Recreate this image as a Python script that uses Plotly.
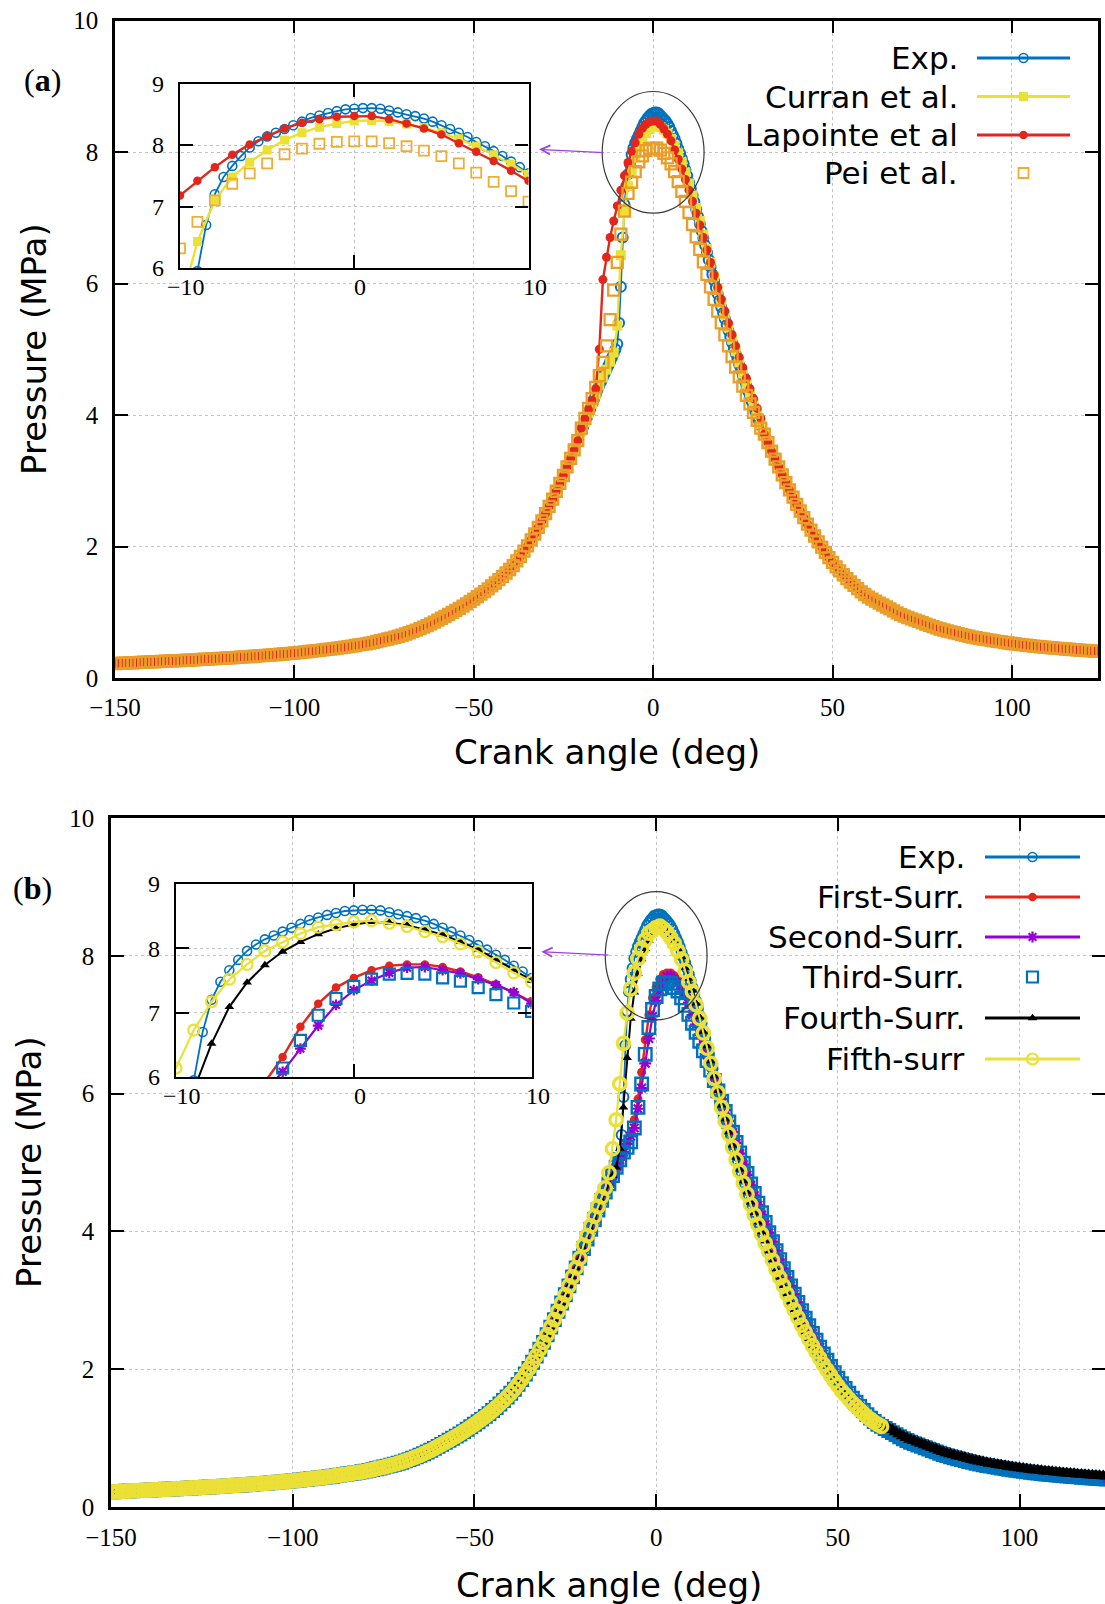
import copy
import plotly.graph_objects as go

W, H = 1105, 1604

# ---------------- angle grids (deg) ----------------
ANG_TAIL_L = list(range(-150, -40))              # -150 .. -41
ANG_RISE = list(range(-40, -20))                 # -40 .. -21
ANG_WIN = list(range(-20, 31))                   # -20 .. 30
ANG_WIN_EXP = [a / 2 for a in range(-40, 61)]    # -20 .. 30 step 0.5
ANG_FALL = list(range(31, 61))                   # 31 .. 60
ANG_TAIL_R = list(range(61, 125))                # 61 .. 124

# ---------------- shared pressure parts (MPa) ----------------
P_TAIL_L = [0.220, 0.222, 0.225, 0.227, 0.230, 0.232, 0.234, 0.237, 0.240, 0.242,
            0.245, 0.247, 0.250, 0.252, 0.255, 0.257, 0.260, 0.262, 0.265, 0.267,
            0.270, 0.273, 0.276, 0.279, 0.282, 0.285, 0.288, 0.291, 0.294, 0.297,
            0.300, 0.303, 0.307, 0.310, 0.314, 0.317, 0.320, 0.324, 0.327, 0.331,
            0.335, 0.339, 0.343, 0.347, 0.352, 0.356, 0.361, 0.365, 0.370, 0.375,
            0.380, 0.385, 0.391, 0.397, 0.403, 0.409, 0.415, 0.421, 0.427, 0.434,
            0.440, 0.447, 0.455, 0.462, 0.470, 0.478, 0.486, 0.494, 0.503, 0.511,
            0.520, 0.531, 0.543, 0.555, 0.567, 0.580, 0.593, 0.606, 0.620, 0.635,
            0.650, 0.669, 0.688, 0.708, 0.728, 0.750, 0.773, 0.798, 0.823, 0.851,
            0.880, 0.909, 0.938, 0.968, 0.998, 1.029, 1.060, 1.094, 1.128, 1.164,
            1.200, 1.237, 1.275, 1.315, 1.355, 1.400, 1.445, 1.495, 1.545, 1.597]
P_RISE = [1.65, 1.71, 1.78, 1.85, 1.93, 2.01, 2.10, 2.19, 2.29, 2.39,
          2.50, 2.61, 2.72, 2.84, 2.96, 3.08, 3.21, 3.34, 3.47, 3.61]
P_FALL = [3.71, 3.58, 3.45, 3.33, 3.21, 3.09, 2.97, 2.86, 2.75, 2.64,
          2.54, 2.44, 2.34, 2.25, 2.16, 2.07, 1.99, 1.91, 1.83, 1.76,
          1.69, 1.63, 1.57, 1.51, 1.46, 1.41, 1.36, 1.31, 1.27, 1.23]
P_FALL_LATE = [3.98, 3.85, 3.72, 3.59, 3.46, 3.33, 3.21, 3.09, 2.97, 2.85,
               2.74, 2.63, 2.52, 2.42, 2.32, 2.22, 2.13, 2.04, 1.95, 1.87,
               1.79, 1.72, 1.65, 1.58, 1.52, 1.46, 1.40, 1.34, 1.29, 1.24]
P_TAIL_R = [1.20, 1.17, 1.14, 1.11, 1.08, 1.05, 1.02, 0.99, 0.965, 0.94,
            0.92, 0.90, 0.88, 0.86, 0.84, 0.82, 0.80, 0.78, 0.762, 0.745,
            0.730, 0.715, 0.701, 0.688, 0.674, 0.660, 0.647, 0.635, 0.623, 0.612,
            0.602, 0.593, 0.584, 0.575, 0.566, 0.557, 0.548, 0.540, 0.532, 0.525,
            0.518, 0.511, 0.504, 0.498, 0.492, 0.486, 0.480, 0.475, 0.470, 0.465,
            0.460, 0.455, 0.450, 0.446, 0.441, 0.437, 0.432, 0.428, 0.424, 0.420,
            0.416, 0.413, 0.409, 0.406]
P_TAIL_R_FOURTH = [1.215, 1.195, 1.17, 1.145, 1.12, 1.09, 1.06, 1.03, 1.005, 0.98,
                   0.96, 0.94, 0.92, 0.90, 0.88, 0.86, 0.84, 0.82, 0.802, 0.785,
                   0.770, 0.755, 0.741, 0.728, 0.714, 0.700, 0.687, 0.675, 0.663, 0.652,
                   0.642, 0.633, 0.624, 0.615, 0.606, 0.597, 0.588, 0.580, 0.572, 0.565,
                   0.558, 0.551, 0.544, 0.538, 0.532, 0.526, 0.520, 0.515, 0.510, 0.505,
                   0.500, 0.495, 0.490, 0.486, 0.481, 0.477, 0.472, 0.468, 0.464, 0.460,
                   0.456, 0.453, 0.449, 0.446]

# ---------------- peak windows ----------------
EXP_WIN = [3.75, 3.82, 3.89, 3.96, 4.03, 4.10, 4.17, 4.24, 4.31, 4.38,
           4.45, 4.51, 4.57, 4.63, 4.69, 4.75, 4.81, 4.87, 4.93, 5.00,
           5.08, 5.40, 5.95, 6.70, 7.20, 7.48, 7.66, 7.82, 7.96, 8.06,
           8.14, 8.20, 8.26, 8.32, 8.38, 8.44, 8.48, 8.52, 8.55, 8.58,
           8.59, 8.60, 8.60, 8.59, 8.56, 8.53, 8.50, 8.47, 8.43, 8.38,
           8.32, 8.26, 8.20, 8.13, 8.05, 7.98, 7.90, 7.82, 7.73, 7.64,
           7.54, 7.44, 7.34, 7.24, 7.13, 7.02, 6.91, 6.80, 6.69, 6.58,
           6.47, 6.36, 6.25, 6.14, 6.04, 5.94, 5.84, 5.74, 5.64, 5.55,
           5.46, 5.37, 5.28, 5.19, 5.10, 5.01, 4.93, 4.85, 4.76, 4.68,
           4.60, 4.52, 4.44, 4.36, 4.28, 4.20, 4.13, 4.05, 3.98, 3.91,
           3.84]
CURRAN_WIN = [3.75, 3.89, 4.03, 4.17, 4.31, 4.45, 4.57, 4.69, 4.81, 4.95,
              5.36, 6.43, 7.10, 7.48, 7.72, 7.92, 8.08, 8.20, 8.29, 8.35,
              8.39, 8.40, 8.38, 8.34, 8.28, 8.20, 8.10, 7.98, 7.84, 7.69, 7.52,
              7.34, 7.15, 6.95, 6.74, 6.53, 6.32, 6.11, 5.91, 5.71, 5.52,
              5.33, 5.15, 4.97, 4.80, 4.63, 4.47, 4.31, 4.16, 4.01, 3.86]
LAPOINTE_WIN = [3.80, 3.94, 4.08, 4.22, 4.40, 5.00, 6.06, 6.40, 6.70, 6.95,
                7.18, 7.42, 7.64, 7.84, 8.01, 8.14, 8.27, 8.36, 8.42, 8.46,
                8.47, 8.47, 8.42, 8.35, 8.27, 8.17, 8.03, 7.89, 7.74, 7.58, 7.42,
                7.25, 7.07, 6.89, 6.70, 6.51, 6.32, 6.13, 5.94, 5.76, 5.58,
                5.40, 5.22, 5.05, 4.88, 4.72, 4.56, 4.40, 4.25, 4.10, 3.95]
PEI_WIN = [3.80, 3.95, 4.10, 4.25, 4.42, 4.60, 4.80, 5.05, 5.45, 5.90,
           6.32, 6.75, 7.10, 7.37, 7.54, 7.70, 7.85, 7.94, 8.02, 8.05,
           8.06, 8.06, 8.03, 7.98, 7.91, 7.82, 7.70, 7.55, 7.40, 7.25, 7.08,
           6.90, 6.71, 6.52, 6.33, 6.14, 5.95, 5.76, 5.58, 5.40, 5.22,
           5.05, 4.89, 4.73, 4.58, 4.44, 4.30, 4.17, 4.04, 3.92, 3.80]
FIRST_WIN = [3.75, 3.89, 4.03, 4.17, 4.31, 4.45, 4.57, 4.69, 4.81, 4.93,
             5.04, 5.15, 5.27, 5.42, 5.62, 5.92, 6.31, 6.78, 7.14, 7.39,
             7.54, 7.66, 7.73, 7.75, 7.75, 7.71, 7.64, 7.55, 7.44, 7.31, 7.18,
             7.04, 6.89, 6.74, 6.58, 6.42, 6.26, 6.10, 5.94, 5.78, 5.62,
             5.46, 5.30, 5.14, 4.98, 4.83, 4.68, 4.53, 4.39, 4.25, 4.11]
SECOND_WIN = [3.75, 3.89, 4.03, 4.17, 4.31, 4.45, 4.57, 4.69, 4.81, 4.93,
              5.04, 5.15, 5.27, 5.38, 5.50, 5.78, 6.08, 6.44, 6.80, 7.12,
              7.35, 7.50, 7.62, 7.70, 7.71, 7.66, 7.61, 7.52, 7.43, 7.32, 7.14,
              7.00, 6.86, 6.71, 6.56, 6.40, 6.24, 6.08, 5.92, 5.76, 5.60,
              5.44, 5.28, 5.13, 4.97, 4.82, 4.67, 4.52, 4.38, 4.24, 4.10]
THIRD_WIN = [3.75, 3.89, 4.03, 4.17, 4.31, 4.45, 4.57, 4.69, 4.81, 4.93,
             5.04, 5.15, 5.22, 5.30, 5.50, 5.80, 6.14, 6.57, 6.96, 7.22,
             7.41, 7.52, 7.60, 7.61, 7.60, 7.54, 7.49, 7.39, 7.28, 7.15, 7.02,
             6.89, 6.76, 6.62, 6.48, 6.34, 6.19, 6.04, 5.89, 5.74, 5.59,
             5.44, 5.29, 5.14, 4.99, 4.84, 4.69, 4.55, 4.41, 4.27, 4.13]
FOURTH_WIN = [3.75, 3.89, 4.03, 4.17, 4.31, 4.45, 4.57, 4.69, 4.81, 4.93,
              5.20, 5.80, 6.52, 7.09, 7.47, 7.74, 7.95, 8.10, 8.22, 8.31,
              8.37, 8.41, 8.40, 8.36, 8.29, 8.21, 8.10, 7.98, 7.83, 7.67, 7.50,
              7.31, 7.11, 6.90, 6.69, 6.47, 6.25, 6.04, 5.83, 5.63, 5.44,
              5.25, 5.07, 4.90, 4.73, 4.57, 4.42, 4.27, 4.13, 3.99, 3.86]
FIFTH_WIN = [3.80, 3.94, 4.08, 4.22, 4.36, 4.50, 4.63, 4.85, 5.20, 5.62,
             6.14, 6.73, 7.17, 7.52, 7.75, 7.96, 8.10, 8.23, 8.33, 8.37,
             8.41, 8.43, 8.39, 8.34, 8.26, 8.18, 8.07, 7.95, 7.78, 7.62, 7.48,
             7.29, 7.09, 6.88, 6.66, 6.44, 6.22, 6.01, 5.80, 5.60, 5.41,
             5.22, 5.04, 4.87, 4.70, 4.54, 4.39, 4.24, 4.10, 3.96, 3.83]

# tick labels
XT_MAIN = [-150, -100, -50, 0, 50, 100]
YT_MAIN = [0, 2, 4, 6, 8, 10]
XT_INSET = [-10, 0, 10]
YT_INSET = [6, 7, 8, 9]

assert len(P_TAIL_L) == len(ANG_TAIL_L)
assert len(P_RISE) == len(ANG_RISE)
assert len(P_FALL) == len(ANG_FALL) == len(P_FALL_LATE)
assert len(P_TAIL_R) == len(ANG_TAIL_R) == len(P_TAIL_R_FOURTH)
assert len(EXP_WIN) == len(ANG_WIN_EXP)
for w in (CURRAN_WIN, LAPOINTE_WIN, PEI_WIN, FIRST_WIN, SECOND_WIN,
          THIRD_WIN, FOURTH_WIN, FIFTH_WIN):
    assert len(w) == len(ANG_WIN), len(w)

ANG_FULL = ANG_TAIL_L + ANG_RISE + ANG_WIN + ANG_FALL + ANG_TAIL_R
ANG_EXP = ANG_TAIL_L + ANG_RISE + ANG_WIN_EXP + ANG_FALL + ANG_TAIL_R
ANG_FIFTH = ANG_TAIL_L + ANG_RISE + ANG_WIN + ANG_FALL + ANG_TAIL_R[:2]

P_EXP = P_TAIL_L + P_RISE + EXP_WIN + P_FALL + P_TAIL_R
P_CURRAN = P_TAIL_L + P_RISE + CURRAN_WIN + P_FALL + P_TAIL_R
P_LAPOINTE = P_TAIL_L + P_RISE + LAPOINTE_WIN + P_FALL + P_TAIL_R
P_PEI = P_TAIL_L + P_RISE + PEI_WIN + P_FALL + P_TAIL_R
P_FIRST = P_TAIL_L + P_RISE + FIRST_WIN + P_FALL_LATE + P_TAIL_R
P_SECOND = P_TAIL_L + P_RISE + SECOND_WIN + P_FALL_LATE + P_TAIL_R
P_THIRD = P_TAIL_L + P_RISE + THIRD_WIN + P_FALL_LATE + P_TAIL_R
P_FOURTH = P_TAIL_L + P_RISE + FOURTH_WIN + P_FALL + P_TAIL_R_FOURTH
P_FIFTH = P_TAIL_L + P_RISE + FIFTH_WIN + P_FALL + P_TAIL_R[:2]

LEGEND_A = ["Exp.", "Curran et al.", "Lapointe et al", "Pei et al."]
LEGEND_B = ["Exp.", "First-Surr.", "Second-Surr.", "Third-Surr.", "Fourth-Surr.", "Fifth-surr"]

# ---------------- styles ----------------
BLUE = "#0072bd"
YELLOW = "#ebe036"
RED = "#e3261c"
ORANGE = "#eeae35"
ORANGE_DEEP = "#ea9d2a"
PURPLE = "#9400d3"
BLACK = "#000000"

STY = {
    "Exp.": dict(mode="lines+markers", line=dict(color=BLUE, width=1.8),
                 marker=dict(symbol="circle-open", size=9, color=BLUE, line=dict(width=1.6, color=BLUE))),
    "Curran et al.": dict(mode="lines+markers", line=dict(color=YELLOW, width=2.4),
                          marker=dict(symbol="square", size=9, color=YELLOW)),
    "Lapointe et al": dict(mode="lines+markers", line=dict(color=RED, width=2.4),
                           marker=dict(symbol="circle", size=8.5, color=RED)),
    "Pei et al.": dict(mode="markers",
                       marker=dict(symbol="square-open", size=10, color=ORANGE, line=dict(width=1.8, color=ORANGE))),
    "First-Surr.": dict(mode="lines+markers", line=dict(color=RED, width=2.4),
                        marker=dict(symbol="circle", size=8.5, color=RED)),
    "Second-Surr.": dict(mode="lines+markers", line=dict(color=PURPLE, width=2.2),
                         marker=dict(symbol="asterisk-open", size=9, color=PURPLE, line=dict(width=2.2, color=PURPLE))),
    "Third-Surr.": dict(mode="markers",
                        marker=dict(symbol="square-open", size=11, color=BLUE, line=dict(width=2.2, color=BLUE))),
    "Fourth-Surr.": dict(mode="lines+markers", line=dict(color=BLACK, width=2),
                         marker=dict(symbol="triangle-up", size=8.5, color=BLACK)),
    "Fifth-surr": dict(mode="lines+markers", line=dict(color=YELLOW, width=2.2),
                       marker=dict(symbol="circle-open", size=11, color=YELLOW, line=dict(width=2.2, color=YELLOW))),
}
# heavier marks in the large panels (size, marker edge width)
MAIN_MARK = {
    "Exp.": (10, 2.0), "Curran et al.": (10, None), "Lapointe et al": (9, None),
    "Pei et al.": (11, 2.3), "First-Surr.": (9, None), "Second-Surr.": (10, 2.2),
    "Third-Surr.": (12.5, 2.4), "Fourth-Surr.": (8.5, None), "Fifth-surr": (12.5, 3.3),
}


def style(name, main):
    st = copy.deepcopy(STY[name])
    if main:
        size, lw = MAIN_MARK[name]
        st["marker"]["size"] = size
        if lw is not None:
            st["marker"]["line"]["width"] = lw
        if name == "Pei et al.":
            st["marker"]["color"] = ORANGE_DEEP
            st["marker"]["line"]["color"] = ORANGE_DEEP
    return st


SERIES_A = [("Exp.", ANG_EXP, P_EXP), ("Curran et al.", ANG_FULL, P_CURRAN),
            ("Lapointe et al", ANG_FULL, P_LAPOINTE), ("Pei et al.", ANG_FULL, P_PEI)]
SERIES_B = [("Exp.", ANG_EXP, P_EXP), ("First-Surr.", ANG_FULL, P_FIRST),
            ("Second-Surr.", ANG_FULL, P_SECOND), ("Third-Surr.", ANG_FULL, P_THIRD),
            ("Fourth-Surr.", ANG_FULL, P_FOURTH), ("Fifth-surr", ANG_FIFTH, P_FIFTH)]

fig = go.Figure()

for axes, main in ((("x", "y"), True), (("x2", "y2"), False)):
    for name, xs, ys in SERIES_A:
        fig.add_trace(go.Scatter(x=xs, y=ys, xaxis=axes[0], yaxis=axes[1], showlegend=False,
                                 name=name, **style(name, main)))

SPLIT = ANG_FULL.index(60)
for axes, main in ((("x3", "y3"), True), (("x4", "y4"), False)):
    for name, xs, ys in SERIES_B:
        if main and name == "Fourth-Surr.":
            # expansion tail drawn with heavier marks (a thick black band in the original)
            fig.add_trace(go.Scatter(x=xs[:SPLIT + 1], y=ys[:SPLIT + 1], xaxis=axes[0], yaxis=axes[1],
                                     showlegend=False, name=name, **style(name, True)))
            st = style(name, True)
            st["marker"]["size"] = 13
            st["line"]["width"] = 3
            fig.add_trace(go.Scatter(x=xs[SPLIT:], y=ys[SPLIT:], xaxis=axes[0], yaxis=axes[1],
                                     showlegend=False, name=name, **st))
        else:
            fig.add_trace(go.Scatter(x=xs, y=ys, xaxis=axes[0], yaxis=axes[1], showlegend=False,
                                     name=name, **style(name, main)))


# ---------------- manual legends (text left, key right, gnuplot style) ----------------
def add_legend(names, rows_px, text_right, line_x0, line_x1):
    mx = (line_x0 + line_x1) / 2
    anns = []
    for name, ypx in zip(names, rows_px):
        st = STY[name]
        if "line" in st:
            fig.add_trace(go.Scatter(x=[line_x0, line_x1], y=[ypx, ypx], xaxis="x5", yaxis="y5",
                                     mode="lines", line=dict(color=st["line"]["color"], width=3),
                                     showlegend=False, cliponaxis=False, hoverinfo="skip"))
        fig.add_trace(go.Scatter(x=[mx], y=[ypx], xaxis="x5", yaxis="y5", mode="markers",
                                 marker=dict(st["marker"]), showlegend=False, cliponaxis=False,
                                 hoverinfo="skip"))
        anns.append(dict(text=name, x=text_right / W, y=1 - ypx / H, xref="paper", yref="paper",
                         xanchor="right", yanchor="middle", showarrow=False,
                         font=dict(family="DejaVu Sans", size=31, color="black")))
    return anns


annotations = []
annotations += add_legend(LEGEND_A, [58, 96.5, 135, 173], 960, 977, 1070)
annotations += add_legend(LEGEND_B, [857, 897, 937, 977, 1018, 1059], 967, 985, 1080)

# ---------------- axes ----------------
GRID = dict(showgrid=True, gridcolor="#c4c4c4", griddash="dot", gridwidth=1.3, zeroline=False,
            automargin=False)
TICKS_MAIN = dict(ticks="inside", ticklen=13, tickwidth=2, tickcolor="black", showline=True,
                  linecolor="black", linewidth=2.5, mirror="ticks",
                  tickfont=dict(family="Liberation Serif", size=25, color="black"))
TICKS_INSET = dict(ticks="inside", ticklen=13, tickwidth=2, tickcolor="black", showline=True,
                   linecolor="black", linewidth=2.2, mirror="ticks",
                   tickfont=dict(family="Liberation Serif", size=24, color="black"))

layout = dict(
    width=W, height=H, margin=dict(l=0, r=0, t=0, b=0, autoexpand=False),
    paper_bgcolor="white", plot_bgcolor="rgba(0,0,0,0)", showlegend=False,
    xaxis=dict(domain=[115 / W, 1098 / W], range=[-150, 124], anchor="y", tickvals=XT_MAIN,
               ticklabelstandoff=5, **GRID, **TICKS_MAIN),
    yaxis=dict(domain=[1 - 678 / H, 1 - 20.5 / H], range=[0, 10], anchor="x", tickvals=YT_MAIN,
               ticklabelstandoff=9, **GRID, **TICKS_MAIN),
    xaxis2=dict(domain=[180 / W, 528.5 / W], range=[-10, 10], anchor="y2", tickvals=XT_INSET,
                showticklabels=False, **GRID, **TICKS_INSET),
    yaxis2=dict(domain=[1 - 268 / H, 1 - 83.5 / H], range=[6, 9], anchor="x2", tickvals=YT_INSET,
                ticklabelstandoff=9, **GRID, **TICKS_INSET),
    xaxis3=dict(domain=[111 / W, 1.0], range=[-150, 123.5], anchor="y3", tickvals=XT_MAIN,
                ticklabelstandoff=6, **GRID, **TICKS_MAIN),
    yaxis3=dict(domain=[1 - 1507 / H, 1 - 818 / H], range=[0, 10], anchor="x3", tickvals=YT_MAIN,
                ticklabelstandoff=9, **GRID, **TICKS_MAIN),
    xaxis4=dict(domain=[176 / W, 531.5 / W], range=[-10, 10], anchor="y4", tickvals=XT_INSET,
                showticklabels=False, **GRID, **TICKS_INSET),
    yaxis4=dict(domain=[1 - 1077 / H, 1 - 884 / H], range=[6, 9], anchor="x4", tickvals=YT_INSET,
                ticklabelstandoff=9, **GRID, **TICKS_INSET),
    xaxis5=dict(domain=[0, 1], range=[0, W], anchor="y5", visible=False, fixedrange=True, automargin=False),
    yaxis5=dict(domain=[0, 1], range=[H, 0], anchor="x5", visible=False, fixedrange=True, automargin=False),
)

# inset x tick labels (set tight under the inset frame, as in the original)
for xref, ypx in (("x2", 287), ("x4", 1096)):
    for t in XT_INSET:
        annotations.append(dict(text=str(t).replace("-", "\u2212"), x=t, y=1 - ypx / H, xref=xref,
                                yref="paper", xanchor="center", yanchor="middle", showarrow=False,
                                xshift=6, font=dict(family="Liberation Serif", size=24, color="black")))

# axis titles and panel labels
TITLE_FONT = dict(family="DejaVu Sans", size=34, color="black")
annotations += [
    dict(text="Crank angle (deg)", x=607 / W, y=1 - 752 / H, xref="paper", yref="paper",
         xanchor="center", yanchor="middle", showarrow=False, font=TITLE_FONT),
    dict(text="Crank angle (deg)", x=609 / W, y=1 - 1585 / H, xref="paper", yref="paper",
         xanchor="center", yanchor="middle", showarrow=False, font=TITLE_FONT),
    dict(text="Pressure (MPa)", x=34 / W, y=1 - 349 / H, xref="paper", yref="paper", textangle=-90,
         xanchor="center", yanchor="middle", showarrow=False, font=TITLE_FONT),
    dict(text="Pressure (MPa)", x=29 / W, y=1 - 1162 / H, xref="paper", yref="paper", textangle=-90,
         xanchor="center", yanchor="middle", showarrow=False, font=TITLE_FONT),
    dict(text="(<b>a</b>)", x=42 / W, y=1 - 80 / H, xref="paper", yref="paper",
         xanchor="center", yanchor="middle", showarrow=False,
         font=dict(family="Liberation Serif", size=32, color="black")),
    dict(text="(<b>b</b>)", x=32 / W, y=1 - 888 / H, xref="paper", yref="paper",
         xanchor="center", yanchor="middle", showarrow=False,
         font=dict(family="Liberation Serif", size=32, color="black")),
    # arrows from the circled peak to the insets
    dict(text="", x=-31.8, y=8.04, xref="x", yref="y", ax=-13.4, ay=7.99, axref="x", ayref="y",
         showarrow=True, arrowhead=5, arrowsize=1.5, arrowwidth=1.2, arrowcolor="#a040e0"),
    dict(text="", x=-31.6, y=8.06, xref="x3", yref="y3", ax=-12.7, ay=8.01, axref="x3", ayref="y3",
         showarrow=True, arrowhead=5, arrowsize=1.5, arrowwidth=1.2, arrowcolor="#a040e0"),
]

shapes = [
    dict(type="circle", xref="x", yref="y", x0=-14.2, x1=14.2, y0=7.07, y1=8.92,
         line=dict(color="#3a3a3a", width=1.2), layer="above"),
    dict(type="circle", xref="x3", yref="y3", x0=-14.0, x1=14.0, y0=7.07, y1=8.93,
         line=dict(color="#3a3a3a", width=1.2), layer="above"),
]

fig.update_layout(**layout, annotations=annotations, shapes=shapes)
fig.write_html("out.html")
